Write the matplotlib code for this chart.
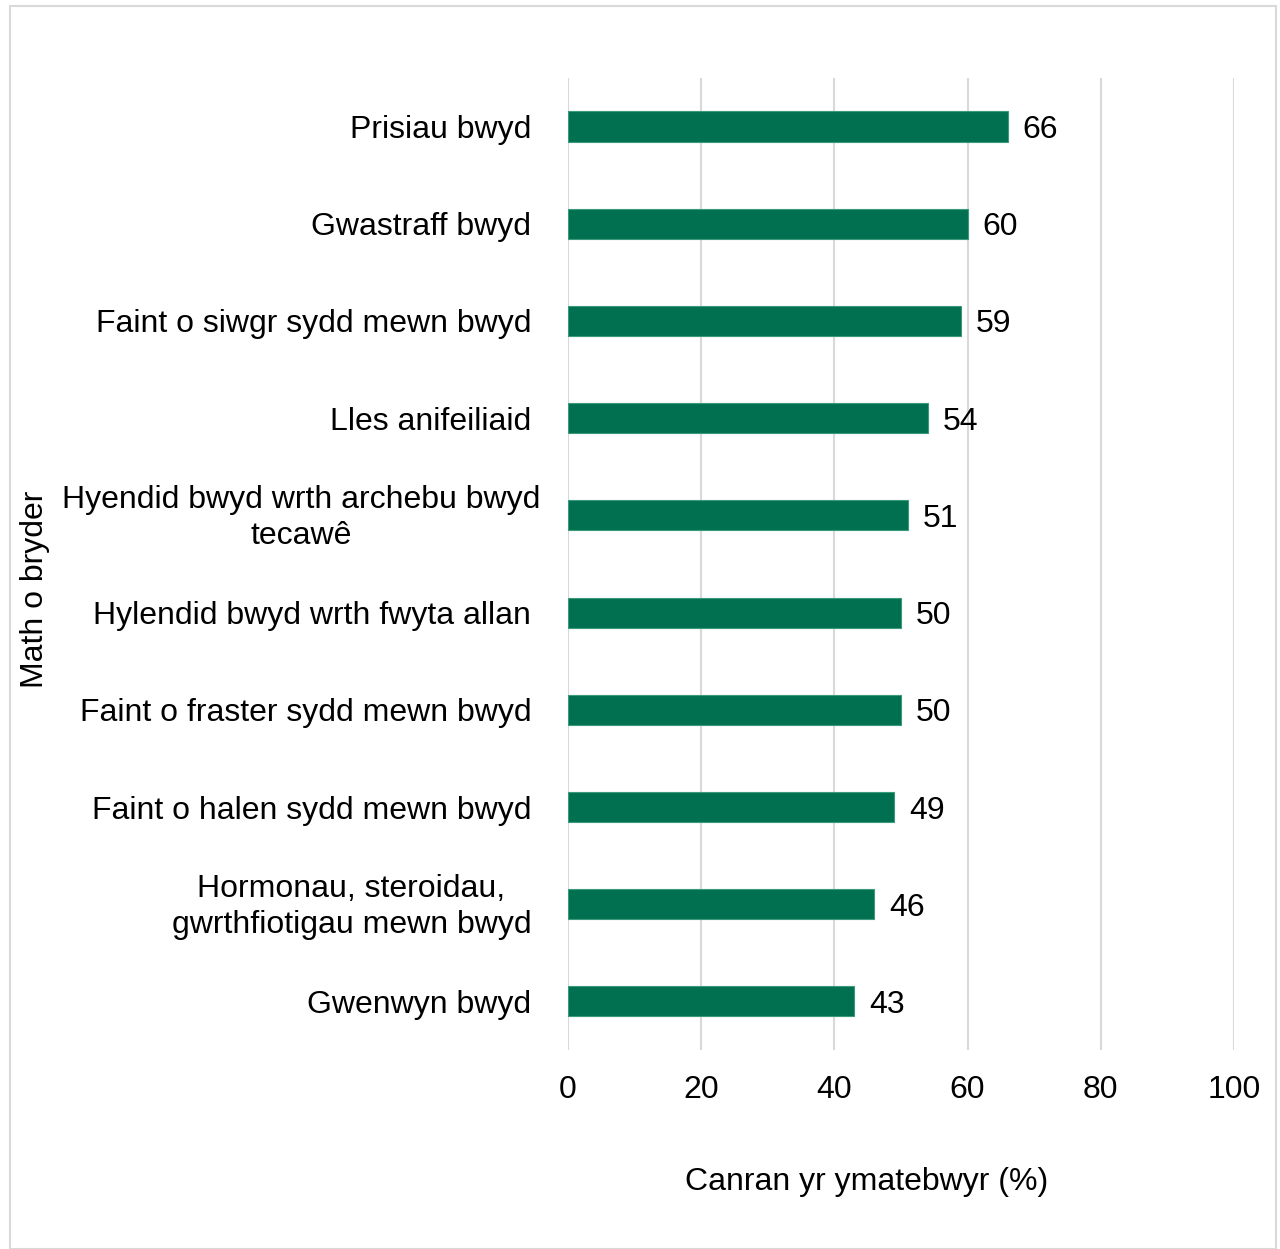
import matplotlib.pyplot as plt
from matplotlib.patches import Rectangle
from matplotlib.transforms import ScaledTranslation

categories = [
    "Prisiau bwyd",
    "Gwastraff bwyd",
    "Faint o siwgr sydd mewn bwyd",
    "Lles anifeiliaid",
    "Hyendid bwyd wrth archebu bwyd\ntecawê",
    "Hylendid bwyd wrth fwyta allan",
    "Faint o fraster sydd mewn bwyd",
    "Faint o halen sydd mewn bwyd",
    "Hormonau, steroidau,\ngwrthfiotigau mewn bwyd",
    "Gwenwyn bwyd",
]
values = [66, 60, 59, 54, 51, 50, 50, 49, 46, 43]
xticks = [0, 20, 40, 60, 80, 100]

plt.rcParams["font.family"] = ["Liberation Sans", "DejaVu Sans"]
fs = 23

fig = plt.figure(figsize=(12.8, 12.49), dpi=100)
ax = fig.add_axes([0.44375, 0.1593, 0.5203, 0.7783])

# outer border of the chart area
fig.patches.append(Rectangle((10 / 1280, 0), 1266 / 1280, 1 - 6 / 1249,
                             transform=fig.transFigure, fill=False,
                             edgecolor="#d9d9d9", linewidth=1.5))

pos = list(range(len(categories)))
ax.barh(pos, values, height=0.31, color="#007050", edgecolor="#3a9a7a", linewidth=0.8, zorder=3)
for p, v in zip(pos, values):
    ax.text(v + 2.2, p, str(v), va="center_baseline", ha="left", fontsize=fs)

ax.set_xlim(0, 100)
ax.set_ylim(len(categories) - 0.5, -0.5)
ax.set_xticks(xticks)
ax.set_xticklabels([str(t) for t in xticks], fontsize=fs)
ax.set_yticks(pos)
ax.set_yticklabels(categories, fontsize=fs, multialignment="center", linespacing=1.26)
ax.tick_params(axis="both", length=0)
ax.tick_params(axis="y", pad=26.5)
ax.tick_params(axis="x", pad=18)
ax.grid(axis="x", color="#d9d9d9", linewidth=1.5, zorder=0)
for s in ax.spines.values():
    s.set_visible(False)

# nudge the wrapped labels to where they sit in the original
labels = ax.get_yticklabels()
for i, dx in [(4, 9), (8, 0)]:
    lab = labels[i]
    lab.set_transform(lab.get_transform() + ScaledTranslation(dx / 100, 4 / 100, fig.dpi_scale_trans))

fig.text(867 / 1280, 1 - 1182 / 1249, "Canran yr ymatebwyr (%)", ha="center", va="center", fontsize=fs)
fig.text(35 / 1280, 1 - 589 / 1249, "Math o bryder", ha="center", va="center", rotation=90, fontsize=fs)

fig.savefig("out.png", dpi=100)
